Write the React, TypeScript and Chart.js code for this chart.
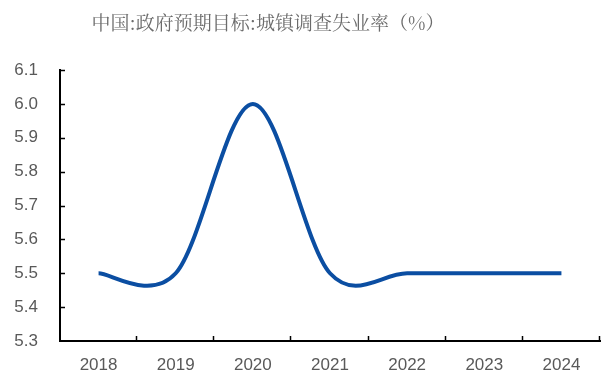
import React, { useEffect, useRef } from "react";
import { Chart, registerables } from "chart.js";

Chart.register(...registerables);

const TITLE = "中国:政府预期目标:城镇调查失业率（%）";
const years = ["2018", "2019", "2020", "2021", "2022", "2023", "2024"];
const targetRate = [5.5, 5.5, 6.0, 5.5, 5.5, 5.5, 5.5];
const yMin = 5.3;
const yMax = 6.1;
const yStep = 0.1;

const LINE_COLOR = "#0b4ea2";
const TEXT_COLOR = "#595959";
const AXIS_COLOR = "#000000";

// Smooth curve with control points at one sixth of the neighbour chord.
const smoothCurve = {
  id: "smoothCurve",
  beforeDatasetDraw(chart: any, args: any) {
    const meta = args.meta;
    const line = meta.dataset;
    if (!line) return;
    line.updateControlPoints(chart.chartArea, "x");
    const pts = meta.data;
    for (let i = 0; i < pts.length; i++) {
      const p = pts[i];
      const prev = pts[Math.max(0, i - 1)];
      const next = pts[Math.min(pts.length - 1, i + 1)];
      const dx = (next.x - prev.x) / 6;
      const dy = (next.y - prev.y) / 6;
      p.cp1x = p.x - dx;
      p.cp1y = p.y - dy;
      p.cp2x = p.x + dx;
      p.cp2y = p.y + dy;
    }
    line._path = undefined;
  },
};

// Inward tick marks on both axes and the title.
const axisDecor = {
  id: "axisDecor",
  afterDraw(chart: any) {
    const { ctx, chartArea } = chart;
    const y = chart.scales.y;
    const len = 5;
    ctx.save();
    ctx.strokeStyle = AXIS_COLOR;
    ctx.lineWidth = 1.5;
    ctx.beginPath();
    const n = years.length;
    const w = (chartArea.right - chartArea.left) / n;
    for (let i = 1; i <= n; i++) {
      const px = Math.round(chartArea.left + w * i) - 0.5;
      ctx.moveTo(px, chartArea.bottom);
      ctx.lineTo(px, chartArea.bottom - len);
    }
    for (let v = yMin + yStep; v <= yMax + 1e-9; v += yStep) {
      const py = Math.round(y.getPixelForValue(v)) + 0.5;
      ctx.moveTo(chartArea.left, py);
      ctx.lineTo(chartArea.left + len, py);
    }
    ctx.stroke();

    ctx.fillStyle = "#6b6b6b";
    ctx.font = '19px "Noto Serif CJK SC", "Noto Sans CJK SC", serif';
    ctx.textAlign = "center";
    ctx.textBaseline = "middle";
    ctx.fillText(TITLE, 268, 23);
    ctx.restore();
  },
};

export default function App() {
  const ref = useRef<HTMLCanvasElement>(null);

  useEffect(() => {
    if (!ref.current) return;
    const chart = new Chart(ref.current, {
      type: "line",
      data: {
        labels: years,
        datasets: [
          {
            data: targetRate,
            borderColor: LINE_COLOR,
            borderWidth: 4,
            pointRadius: 0,
            tension: 0.4,
            fill: false,
          },
        ],
      },
      options: {
        animation: false,
        responsive: false,
        events: [],
        layout: { padding: { top: 70, right: 3, left: 0, bottom: 0 } },
        plugins: {
          legend: { display: false },
          title: { display: false },
          tooltip: { enabled: false },
        },
        scales: {
          x: {
            offset: true,
            grid: { display: true, drawOnChartArea: false, drawTicks: false },
            border: { display: true, color: AXIS_COLOR, width: 2 },
            ticks: {
              color: TEXT_COLOR,
              padding: 14,
              font: { family: '"Liberation Sans", Arial, sans-serif', size: 17 },
              maxRotation: 0,
            },
            afterFit(scale: any) {
              scale.height = 37;
            },
          },
          y: {
            min: yMin,
            max: yMax,
            grid: { display: true, drawOnChartArea: false, drawTicks: false },
            border: { display: true, color: AXIS_COLOR, width: 2 },
            ticks: {
              stepSize: yStep,
              color: TEXT_COLOR,
              padding: 22,
              font: { family: '"Liberation Sans", Arial, sans-serif', size: 17 },
              callback: (v: any) => Number(v).toFixed(1),
            },
            afterFit(scale: any) {
              scale.width = 60;
            },
          },
        },
      },
      plugins: [smoothCurve, axisDecor],
    });
    return () => chart.destroy();
  }, []);

  return (
    <div style={{ position: "absolute", left: 0, top: 0, width: 603, height: 378 }}>
      <canvas ref={ref} width={603} height={378} style={{ display: "block" }} />
    </div>
  );
}
